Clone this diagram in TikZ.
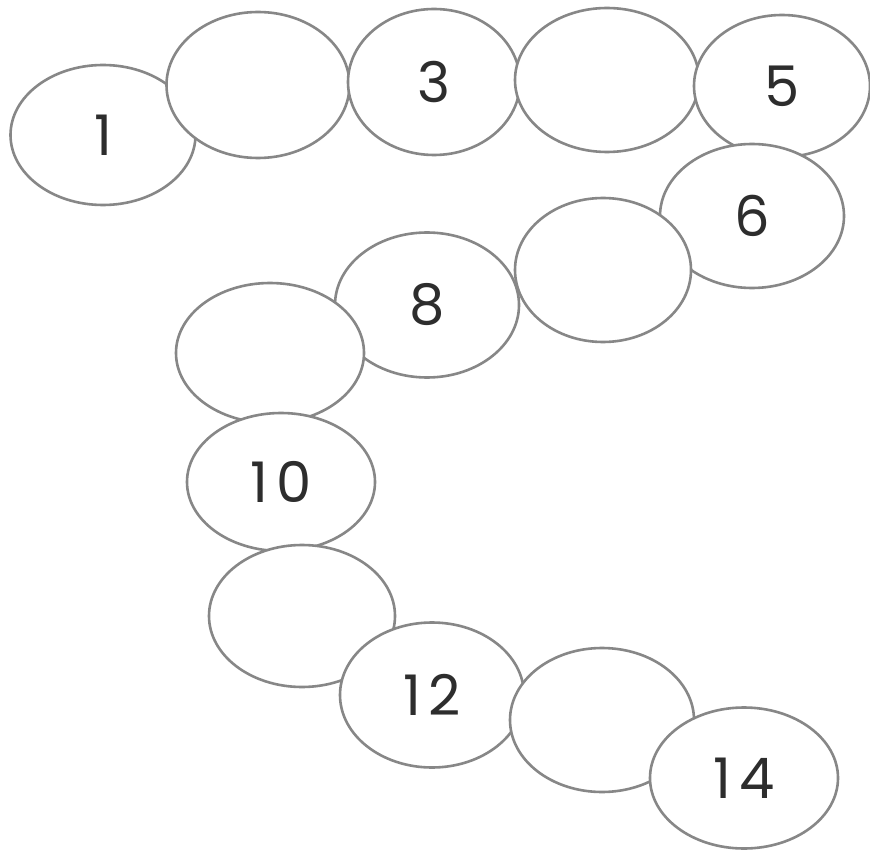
\documentclass[tikz,border=0pt]{standalone}
\usepackage{fontspec}
\setmainfont[LetterSpace=14]{Poppins}
\usetikzlibrary{shapes.geometric}
\definecolor{rimgray}{RGB}{135,135,135}
\definecolor{numgray}{RGB}{45,45,45}
\tikzset{seg/.style={ellipse,draw=rimgray,line width=2.6pt,fill=white,inner sep=0pt,
  text=numgray,font=\fontsize{56}{60}\selectfont}}

\begin{document}
\begin{tikzpicture}[x=1pt,y=-1pt]
\useasboundingbox[fill=white] (0,0) rectangle (870,850);
% body segments, head to tail
\foreach \n/\x/\y/\w/\h/\t in {1/103/135/185/140/1,2/258/85/183/146/{},3/434/82/172/146/3,
  4/607/80/184/144/{},5/782/86/176/142/5,6/752/216/184/144/6,7/603/270/176/144/{},
  8/427/305/184/145/8,9/270/353/188/140/{},10/281/482/188/138/10,11/302/616/186/142/{},
  12/432/695/184/145/12,13/602/720/184/144/{},14/744/778/188/141/14}{
 \node[seg,minimum width=\w pt,minimum height=\h pt] (seg\n) at (\x,\y) {\t};
}
\end{tikzpicture}
\end{document}
